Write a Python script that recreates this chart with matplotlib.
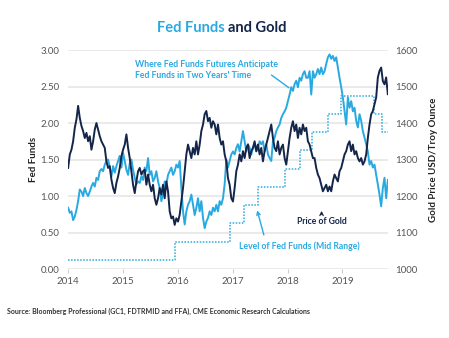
import pandas as pd
import matplotlib
matplotlib.use("Agg")
import matplotlib.pyplot as plt
import matplotlib.dates as mdates

plt.rcParams['font.family'] = ['Lato', 'DejaVu Sans']

LIGHT = '#29a9e1'
DARK = '#14254a'
GRID = '#e6e6e6'

# ~11-day samples, Jan 2014 - Oct 2019
start, end = '2014-01-02', '2019-10-30'

gold = [1277, 1314, 1327, 1350, 1387, 1410, 1447, 1414, 1392, 1378,
        1359, 1373, 1350, 1364, 1327, 1350, 1382, 1400, 1382, 1364,
        1350, 1341, 1332, 1295, 1277, 1282, 1245, 1222, 1208, 1236,
        1254, 1277, 1309, 1327, 1341, 1369, 1332, 1304, 1268, 1231,
        1208, 1240, 1268, 1277, 1259, 1268, 1272, 1231, 1259, 1231,
        1213, 1231, 1194, 1176, 1194, 1222, 1204, 1231, 1194, 1240,
        1213, 1158, 1139, 1144, 1121, 1139, 1130, 1149, 1185, 1222,
        1268, 1314, 1341, 1323, 1304, 1332, 1314, 1350, 1314, 1341,
        1378, 1396, 1424, 1433, 1405, 1414, 1387, 1405, 1396, 1369,
        1396, 1359, 1341, 1350, 1314, 1295, 1249, 1231, 1194, 1185,
        1222, 1268, 1286, 1314, 1295, 1323, 1304, 1332, 1341, 1304,
        1323, 1332, 1350, 1323, 1341, 1314, 1332, 1295, 1323, 1341,
        1359, 1378, 1396, 1359, 1332, 1323, 1350, 1314, 1332, 1341,
        1304, 1286, 1323, 1359, 1387, 1405, 1378, 1396, 1359, 1387,
        1369, 1396, 1378, 1387, 1350, 1341, 1323, 1304, 1304, 1277,
        1259, 1249, 1231, 1213, 1222, 1231, 1213, 1226, 1213, 1240,
        1259, 1249, 1240, 1268, 1277, 1295, 1314, 1323, 1341, 1350,
        1323, 1341, 1314, 1323, 1304, 1295, 1304, 1286, 1295, 1314,
        1359, 1396, 1424, 1433, 1451, 1470, 1525, 1543, 1552, 1515,
        1506, 1525, 1479]

futures = [0.84, 0.77, 0.79, 0.67, 0.72, 0.81, 0.93, 1.09, 1.06, 1.00,
           1.11, 1.04, 1.00, 1.06, 1.13, 1.18, 1.13, 1.25, 1.22, 1.34,
           1.37, 1.34, 1.43, 1.48, 1.50, 1.39, 1.27, 1.41, 1.32, 1.41,
           1.48, 1.55, 1.39, 1.59, 1.48, 1.36, 1.29, 1.45, 1.50, 1.36,
           1.25, 1.16, 1.20, 1.18, 1.27, 1.22, 1.39, 1.34, 1.52, 1.29,
           1.34, 1.20, 1.25, 1.34, 1.20, 1.11, 0.93, 1.02, 1.20, 1.16,
           1.29, 1.34, 1.39, 1.29, 1.34, 1.43, 1.39, 1.48, 1.11, 0.79,
           0.61, 0.79, 0.88, 0.93, 1.02, 0.88, 0.74, 0.84, 0.97, 0.79,
           0.93, 0.70, 0.56, 0.65, 0.70, 0.79, 0.74, 0.84, 0.79, 0.88,
           0.79, 0.93, 0.88, 0.97, 1.16, 1.50, 1.39, 1.48, 1.57, 1.61,
           1.57, 1.66, 1.71, 1.61, 1.75, 1.89, 1.75, 1.61, 1.71, 1.66,
           1.57, 1.66, 1.71, 1.61, 1.66, 1.75, 1.71, 1.75, 1.61, 1.71,
           1.57, 1.52, 1.48, 1.75, 1.80, 1.89, 1.94, 1.98, 2.07, 2.12,
           2.16, 2.21, 2.30, 2.39, 2.49, 2.44, 2.53, 2.58, 2.49, 2.62,
           2.58, 2.67, 2.71, 2.62, 2.62, 2.71, 2.39, 2.71, 2.62, 2.67,
           2.74, 2.67, 2.76, 2.67, 2.71, 2.81, 2.90, 2.94, 2.88, 2.92,
           2.85, 2.90, 2.76, 2.62, 2.49, 2.35, 2.16, 1.98, 2.35, 2.21,
           2.30, 2.16, 2.21, 2.03, 1.94, 2.12, 2.03, 1.89, 1.80, 1.71,
           1.61, 1.43, 1.48, 1.39, 1.43, 1.29, 1.16, 1.02, 0.86, 1.11,
           1.25, 0.97, 1.22]

# Fed funds target mid range, step dates
ff_dates = ['2014-01-02', '2015-12-17', '2016-12-15', '2017-03-16', '2017-06-15',
            '2017-12-14', '2018-03-22', '2018-06-14', '2018-09-27', '2018-12-20',
            '2019-08-01', '2019-09-19', '2019-10-30']
ff_level = [0.125, 0.375, 0.625, 0.875, 1.125, 1.375, 1.625, 1.875, 2.125, 2.375,
            2.125, 1.875, 1.875]

dates = pd.date_range(start, end, periods=len(gold))
ff_dates = pd.to_datetime(ff_dates)

fig = plt.figure(figsize=(4.49, 3.38), dpi=100)
ax = fig.add_axes([0.1514, 0.204, 0.7127, 0.648])
ax2 = ax.twinx()

ax.plot(ff_dates, ff_level, drawstyle='steps-post', color=LIGHT, lw=1.1,
        linestyle=(0, (1, 1)))
ax.plot(dates, futures, color=LIGHT, lw=1.4)
ax2.plot(dates, gold, color=DARK, lw=1.4)

ax.set_ylim(0, 3)
ax2.set_ylim(1000, 1600)
ax.set_xlim(pd.Timestamp('2014-01-01'), pd.Timestamp('2019-10-31'))
ax.set_yticks([0, 0.5, 1, 1.5, 2, 2.5, 3])
ax.set_yticklabels(['%.2f' % v for v in ax.get_yticks()])
ax2.set_yticks(range(1000, 1601, 100))

ax.xaxis.set_major_locator(mdates.YearLocator())
ax.xaxis.set_major_formatter(mdates.DateFormatter('%Y'))

ax.grid(axis='y', color=GRID, lw=1.2)
ax.set_axisbelow(True)
for a in (ax, ax2):
    for s in a.spines.values():
        s.set_visible(False)
ax.tick_params(axis='y', length=0, labelsize=7, labelcolor='#555555', pad=6)
ax2.tick_params(axis='y', length=0, labelsize=7, labelcolor='#555555', pad=5)
ax.tick_params(axis='x', length=3, color='#cccccc', labelsize=7,
               labelcolor='#555555', pad=3)

ax.set_ylabel('Fed Funds', fontsize=7, color='#222222', fontweight='bold', labelpad=2)
ax2.set_ylabel('Gold Price USD/Troy Ounce', fontsize=7, color='#222222',
               fontweight='bold', labelpad=8)

# title in two colours
fig.text(0.508, 0.917, 'Fed Funds ', color=LIGHT, fontsize=10.5, fontweight='bold',
         ha='right', va='center')
fig.text(0.508, 0.917, 'and Gold', color=DARK, fontsize=10.5, fontweight='bold',
         ha='left', va='center')

ax.annotate('', xy=(pd.Timestamp('2018-01-25'), 2.46), xytext=(pd.Timestamp('2017-09-01'), 2.68),
            arrowprops=dict(arrowstyle='-', color=LIGHT, lw=1))
ax.text(pd.Timestamp('2015-03-20'), 2.73, "Where Fed Funds Futures Anticipate\nFed Funds in Two Years' Time",
        color=LIGHT, fontsize=6.3, fontweight='bold', va='center', linespacing=1.3)

ax2.annotate('', xy=(pd.Timestamp('2018-08-15'), 1167), xytext=(pd.Timestamp('2018-08-15'), 1142),
             arrowprops=dict(arrowstyle='->', color=DARK, lw=0.9, mutation_scale=6))
ax2.text(pd.Timestamp('2018-08-15'), 1130, 'Price of Gold', color=DARK, fontsize=6.2,
         fontweight='bold', ha='center', va='center')

ax.annotate('', xy=(pd.Timestamp('2017-06-08'), 0.84), xytext=(pd.Timestamp('2017-08-01'), 0.43),
            arrowprops=dict(arrowstyle='->', color=LIGHT, lw=1, mutation_scale=6))
ax.text(pd.Timestamp('2018-03-20'), 0.31, 'Level of Fed Funds (Mid Range)', color=LIGHT,
        fontsize=6.2, fontweight='bold', ha='center', va='center')

fig.text(0.016, 0.079, 'Source: Bloomberg Professional (GC1, FDTRMID and FFA), CME Economic Research Calculations',
         fontsize=5, fontweight='bold', color='#333333', va='center')

fig.savefig('out.png', dpi=100, facecolor='white')
